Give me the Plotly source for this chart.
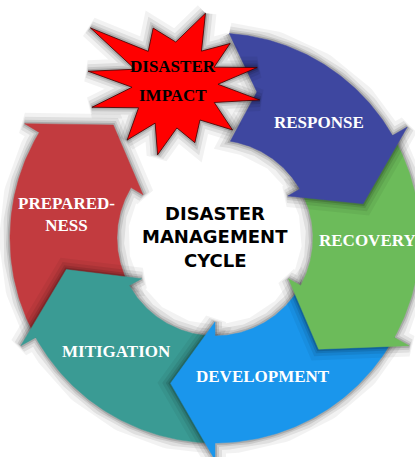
import numpy as np
import plotly.graph_objects as go

# ---------------- data ----------------
stages = ["RESPONSE", "RECOVERY", "DEVELOPMENT", "MITIGATION", "PREPARED-<br>NESS"]
colors = ["#3E47A0", "#6CBB5A", "#1A96EC", "#3A9B94", "#C23B3F"]
tail_out_deg = [4, 60, 119, 180, 241]
tail_in_deg = [9, 60, 119, 180, 241]
notch_deg = [16, 70, 129, 190, 251]
head_base_deg = [60, 119, 180, 241, 301]
head_tip_deg = [77, 137, 197, 258, 318]

center_lines = ["DISASTER", "MANAGEMENT", "CYCLE"]
impact_lines = ["DISASTER", "IMPACT"]
star_spike_deg = [23, 53, 78, 100, 128, 161, 194, 221, 255, 279, 304, 339]
star_spike_r = [78, 69, 84, 86, 73, 61, 72, 73, 86, 88, 102, 61]

# ---------------- layout constants ----------------
W, H = 415, 457
CX, CY = 215, 238
R_IN, R_OUT = 98, 205
BARB_IN, BARB_OUT, TIP_R, NOTCH_R = 84, 222, 152, 152
LABEL_DEG = [42, 91, 161, 221, 279]
LABEL_R = [156, 153, 147, 150, 150]
STAR_C = (175, 85)
STAR_R_IN = 43


def pol(bearing, r, c=(CX, CY)):
    b = np.radians(bearing)
    return c[0] + r * np.sin(b), c[1] - r * np.cos(b)


def arrow_poly(t_out, t_in, notch, base, tip):
    pts = []
    for b in np.linspace(t_out, base, 80):
        pts.append(pol(b, R_OUT))
    pts.append(pol(base, BARB_OUT))
    pts.append(pol(tip, TIP_R))
    pts.append(pol(base, BARB_IN))
    for b in np.linspace(base, t_in, 80):
        pts.append(pol(b, R_IN))
    pts.append(pol(notch, NOTCH_R))
    pts.append(pts[0])
    xs, ys = zip(*pts)
    return list(xs), list(ys)


def star_poly():
    pts = []
    n = len(star_spike_deg)
    for i in range(n):
        b0 = star_spike_deg[i]
        b1 = star_spike_deg[(i + 1) % n]
        if b1 < b0:
            b1 += 360
        pts.append(pol(b0, star_spike_r[i], STAR_C))
        pts.append(pol((b0 + b1) / 2, STAR_R_IN, STAR_C))
    pts.append(pts[0])
    xs, ys = zip(*pts)
    return list(xs), list(ys)


fig = go.Figure()


def add_shape_with_shadow(xs, ys, color, outline=None):
    for w, a in [(22, 0.05), (14, 0.08), (8, 0.10), (4, 0.15)]:
        fig.add_trace(go.Scatter(x=xs, y=ys, mode="lines",
                                 line=dict(color=f"rgba(0,0,0,{a})", width=w),
                                 hoverinfo="skip", showlegend=False))
    fig.add_trace(go.Scatter(x=xs, y=ys, mode="lines", fill="toself",
                             fillcolor=color,
                             line=dict(color=outline or color, width=1 if outline else 0.5),
                             hoverinfo="skip", showlegend=False))


# draw from bottom layer to top: Preparedness, Mitigation, Development, Recovery, Response
for i in [4, 3, 2, 1, 0]:
    xs, ys = arrow_poly(tail_out_deg[i], tail_in_deg[i], notch_deg[i],
                        head_base_deg[i], head_tip_deg[i])
    add_shape_with_shadow(xs, ys, colors[i])

sx, sy = star_poly()
add_shape_with_shadow(sx, sy, "#FF0000", outline="rgba(60,0,0,0.8)")

annotations = []
for i, name in enumerate(stages):
    x, y = pol(LABEL_DEG[i], LABEL_R[i])
    annotations.append(dict(x=x, y=y, xref="x", yref="y", text=name, showarrow=False,
                            font=dict(family="Liberation Serif", size=17, color="white",
                                      weight="bold"),
                            align="center"))

for k, line in enumerate(center_lines):
    annotations.append(dict(x=CX, y=213 + 23.5 * k, xref="x", yref="y", text=line,
                            showarrow=False,
                            font=dict(family="DejaVu Sans", size=18, color="black",
                                      weight="bold")))

for k, line in enumerate(impact_lines):
    annotations.append(dict(x=173, y=66 + 29 * k, xref="x", yref="y", text=line,
                            showarrow=False,
                            font=dict(family="Liberation Serif", size=17, color="black",
                                      weight="bold")))

fig.update_layout(
    width=W, height=H,
    margin=dict(l=0, r=0, t=0, b=0),
    paper_bgcolor="white", plot_bgcolor="white",
    xaxis=dict(range=[0, W], visible=False, fixedrange=True),
    yaxis=dict(range=[H, 0], visible=False, fixedrange=True),
    annotations=annotations,
    showlegend=False,
)

fig.write_html("out.html", config={"displayModeBar": False},
               post_script="document.body.style.margin='0';document.body.style.overflow='hidden';")
